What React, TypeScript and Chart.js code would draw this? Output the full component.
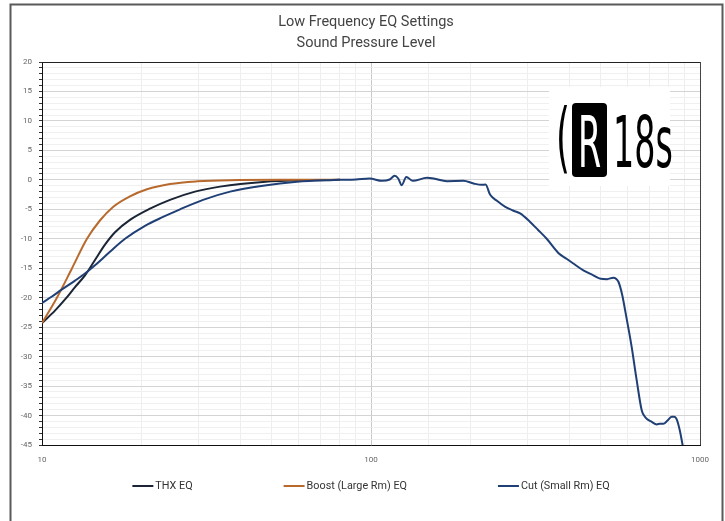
import React, { useEffect, useRef } from 'react';
import { Chart, registerables } from 'chart.js';

Chart.register(...registerables);

const chartTitle = ['Low Frequency EQ Settings', 'Sound Pressure Level'];
const seriesNames = ['THX EQ', 'Boost (Large Rm) EQ', 'Cut (Small Rm) EQ'];
const seriesColors = ['#1b2535', '#b86a2e', '#1f3f75'];

const xTickLabels = [10, 100, 1000];
const yMin = -45;
const yMax = 20;

// THX EQ (low-frequency part)
const thxFreq = [10, 10.95, 11.75, 12.6, 13.51, 14.49, 15.54, 16.67, 18.51, 21.29, 24.49, 29.17, 34.75, 46.96, 66.65, 80.5];
const thxDb = [-24.3, -22.2, -20.3, -18.2, -16.2, -13.6, -11, -8.9, -6.8, -4.9, -3.4, -2, -1.15, -0.35, -0.05, 0];

// Boost (Large Rm) EQ
const boostFreq = [10, 11.1, 12.34, 13.7, 15.0, 16.44, 18.51, 20.85, 24.49, 29.59, 37.3, 52.9, 80.5];
const boostDb = [-24.3, -20, -15, -10, -6.9, -4.6, -2.8, -1.6, -0.7, -0.25, -0.05, 0, 0];

// Cut (Small Rm) EQ
const cutFreq = [10, 10.72, 11.5, 12.6, 13.51, 14.49, 16.09, 17.88, 20.56, 23.32, 26.28, 30.87, 37.3, 46.96, 59.57, 75.06];
const cutDb = [-20.9, -19.8, -18.6, -17.1, -15.9, -14.5, -12.2, -10, -7.8, -6.3, -5, -3.4, -2, -1, -0.34, -0.05];

// common response above ~80 Hz
const tailFreq = [80.5, 90, 99, 108, 114, 118, 121, 124, 128, 134, 148, 155, 170, 191, 205, 217, 223, 230, 242, 256, 270, 284, 304, 322, 342, 371, 393, 412, 442, 474, 499, 522, 545, 565, 580, 592, 606, 620, 642, 665, 680, 690, 710, 739, 755, 774, 795, 820, 835, 849, 868, 886];
const tailDb = [0, 0.05, 0.23, -0.17, 0.06, 0.68, 0.23, -0.9, 0.5, -0.17, 0.34, 0.23, -0.22, -0.17, -0.62, -0.85, -0.8, -2.5, -3.6, -4.6, -5.2, -5.7, -7.1, -8.5, -10, -12.4, -13.4, -14.2, -15.35, -16.2, -16.8, -16.85, -16.6, -17.3, -19.5, -22.1, -25.2, -28.4, -34, -39.1, -40.2, -40.6, -41, -41.5, -41.4, -41.4, -40.9, -40.2, -40.2, -40.6, -42.5, -45.1];

const toPoints = (f: number[], d: number[]) => f.map((x, i) => ({ x, y: d[i] }));

const isDecade = (v: number) => Math.abs(Math.log10(v) - Math.round(Math.log10(v))) < 1e-9;

const framePlugin = {
  id: 'frame',
  beforeDraw(chart: any) {
    const ctx = chart.ctx;
    ctx.save();
    ctx.fillStyle = '#ffffff';
    ctx.fillRect(0, 0, chart.width, chart.height);
    ctx.strokeStyle = '#5a5a5a';
    ctx.lineWidth = 2;
    ctx.strokeRect(10.5, 4.5, 712, 600);
    // title
    ctx.fillStyle = '#444444';
    ctx.font = '14.5px Roboto';
    ctx.textAlign = 'center';
    ctx.textBaseline = 'middle';
    chartTitle.forEach((t, i) => ctx.fillText(t, 366, 22.5 + i * 21));
    ctx.restore();
  },
};

const areaPlugin = {
  id: 'areaBorder',
  beforeDatasetsDraw(chart: any) {
    const { ctx, chartArea: ca } = chart;
    ctx.save();
    // logo
    const bx = ca.right - 151;
    const by = ca.top + 25;
    ctx.fillStyle = '#ffffff';
    ctx.fillRect(bx, by, 121, 99);
    ctx.fillStyle = '#000000';
    const rx = bx + 23, ry = by + 16, rw = 35, rh = 74, rr = 4;
    ctx.beginPath();
    ctx.moveTo(rx + rr, ry);
    ctx.arcTo(rx + rw, ry, rx + rw, ry + rh, rr);
    ctx.arcTo(rx + rw, ry + rh, rx, ry + rh, rr);
    ctx.arcTo(rx, ry + rh, rx, ry, rr);
    ctx.arcTo(rx, ry, rx + rw, ry, rr);
    ctx.closePath();
    ctx.fill();
    const drawCond = (txt: string, x: number, y: number, color: string, align: CanvasTextAlign, size: number) => {
      ctx.save();
      ctx.translate(x, y);
      ctx.scale(0.47, 1);
      ctx.font = size + 'px "DejaVu Sans"';
      ctx.textAlign = align;
      ctx.textBaseline = 'alphabetic';
      ctx.fillStyle = color;
      ctx.fillText(txt, 0, 0);
      ctx.restore();
    };
    drawCond('(', bx + 7, by + 76, '#000000', 'left', 76);
    drawCond('R', rx + rw / 2, by + 80, '#ffffff', 'center', 71);
    drawCond('18s', bx + 64, by + 80, '#000000', 'left', 71);
    // top & right border of plot area
    ctx.strokeStyle = '#222222';
    ctx.lineWidth = 1;
    ctx.beginPath();
    ctx.moveTo(ca.left, Math.round(ca.top) + 0.5);
    ctx.lineTo(ca.right, Math.round(ca.top) + 0.5);
    ctx.stroke();
    ctx.strokeStyle = '#444444';
    ctx.beginPath();
    ctx.moveTo(Math.round(ca.right) + 0.5, ca.top);
    ctx.lineTo(Math.round(ca.right) + 0.5, ca.bottom);
    ctx.stroke();
    ctx.restore();
  },
};

const legendPlugin = {
  id: 'customLegend',
  afterDraw(chart: any) {
    const { ctx, chartArea: ca } = chart;
    ctx.save();
    ctx.font = '10.8px Roboto';
    ctx.textBaseline = 'middle';
    ctx.textAlign = 'left';
    const lineLen = 21, textGap = 2, itemGap = 91;
    const ds = chart.data.datasets;
    const widths = ds.map((d: any) => lineLen + textGap + ctx.measureText(d.label).width);
    const total = widths.reduce((a: number, b: number) => a + b, 0) + itemGap * (ds.length - 1);
    let x = (ca.left + ca.right) / 2 - total / 2;
    const y = 486;
    ds.forEach((d: any, i: number) => {
      ctx.strokeStyle = d.borderColor;
      ctx.lineWidth = 2;
      ctx.beginPath();
      ctx.moveTo(x, y);
      ctx.lineTo(x + lineLen, y);
      ctx.stroke();
      ctx.fillStyle = '#333333';
      ctx.fillText(d.label, x + lineLen + textGap, y);
      x += widths[i] + itemGap;
    });
    ctx.restore();
  },
};

export default function App() {
  const ref = useRef<HTMLCanvasElement>(null);
  useEffect(() => {
    if (!ref.current) return;
    const tail = toPoints(tailFreq, tailDb);
    const chart = new Chart(ref.current, {
      type: 'line',
      data: {
        datasets: [
          {
            label: seriesNames[0],
            data: toPoints(thxFreq, thxDb),
            borderColor: seriesColors[0],
            backgroundColor: seriesColors[0],
            order: 2,
          },
          {
            label: seriesNames[1],
            data: toPoints(boostFreq, boostDb),
            borderColor: seriesColors[1],
            backgroundColor: seriesColors[1],
            order: 1,
          },
          {
            label: seriesNames[2],
            data: toPoints(cutFreq, cutDb).concat(tail),
            borderColor: seriesColors[2],
            backgroundColor: seriesColors[2],
            order: 0,
          },
        ] as any,
      },
      options: {
        animation: false,
        responsive: true,
        maintainAspectRatio: false,
        datasets: {
          line: {
            borderWidth: 2,
            pointRadius: 0,
            fill: false,
            cubicInterpolationMode: 'monotone',
          },
        } as any,
        layout: { padding: { left: 8, right: 25, top: 62, bottom: 54 } },
        plugins: {
          legend: { display: false },
          tooltip: { enabled: false },
          title: { display: false },
        },
        scales: {
          x: {
            type: 'logarithmic',
            min: 10,
            max: 1000,
            position: 'bottom',
            afterFit: (s: any) => { s.height = 22; },
            border: { color: '#111111', width: 1 },
            grid: {
              drawTicks: false,
              color: (c: any) => (c.tick && c.tick.value === 100 ? '#c8c8c8' : '#eeeef2'),
            },
            ticks: {
              autoSkip: false,
              maxRotation: 0,
              padding: 10,
              color: '#666666',
              font: { family: 'Roboto', size: 8 },
              callback: (v: any) => (isDecade(Number(v)) && xTickLabels.includes(Number(v)) ? String(v) : ''),
            },
          } as any,
          y: {
            type: 'linear',
            min: yMin,
            max: yMax,
            afterFit: (s: any) => { s.width = 34; },
            border: { color: '#111111', width: 1 },
            grid: {
              color: (c: any) => (c.tick && c.tick.value % 5 === 0 ? '#d4d4d4' : '#f0f0f0'),
              tickColor: '#333333',
              tickLength: 3,
            },
            ticks: {
              stepSize: 1,
              autoSkip: false,
              padding: 7,
              color: '#666666',
              font: { family: 'Roboto', size: 8 },
              callback: (v: any) => (Number(v) % 5 === 0 ? String(v) : ''),
            },
          } as any,
        },
      },
      plugins: [framePlugin, areaPlugin, legendPlugin],
    });
    return () => chart.destroy();
  }, []);
  return (
    <div style={{ position: 'fixed', left: 0, top: 0, width: 725, height: 521, background: '#ffffff' }}>
      <canvas ref={ref} />
    </div>
  );
}
